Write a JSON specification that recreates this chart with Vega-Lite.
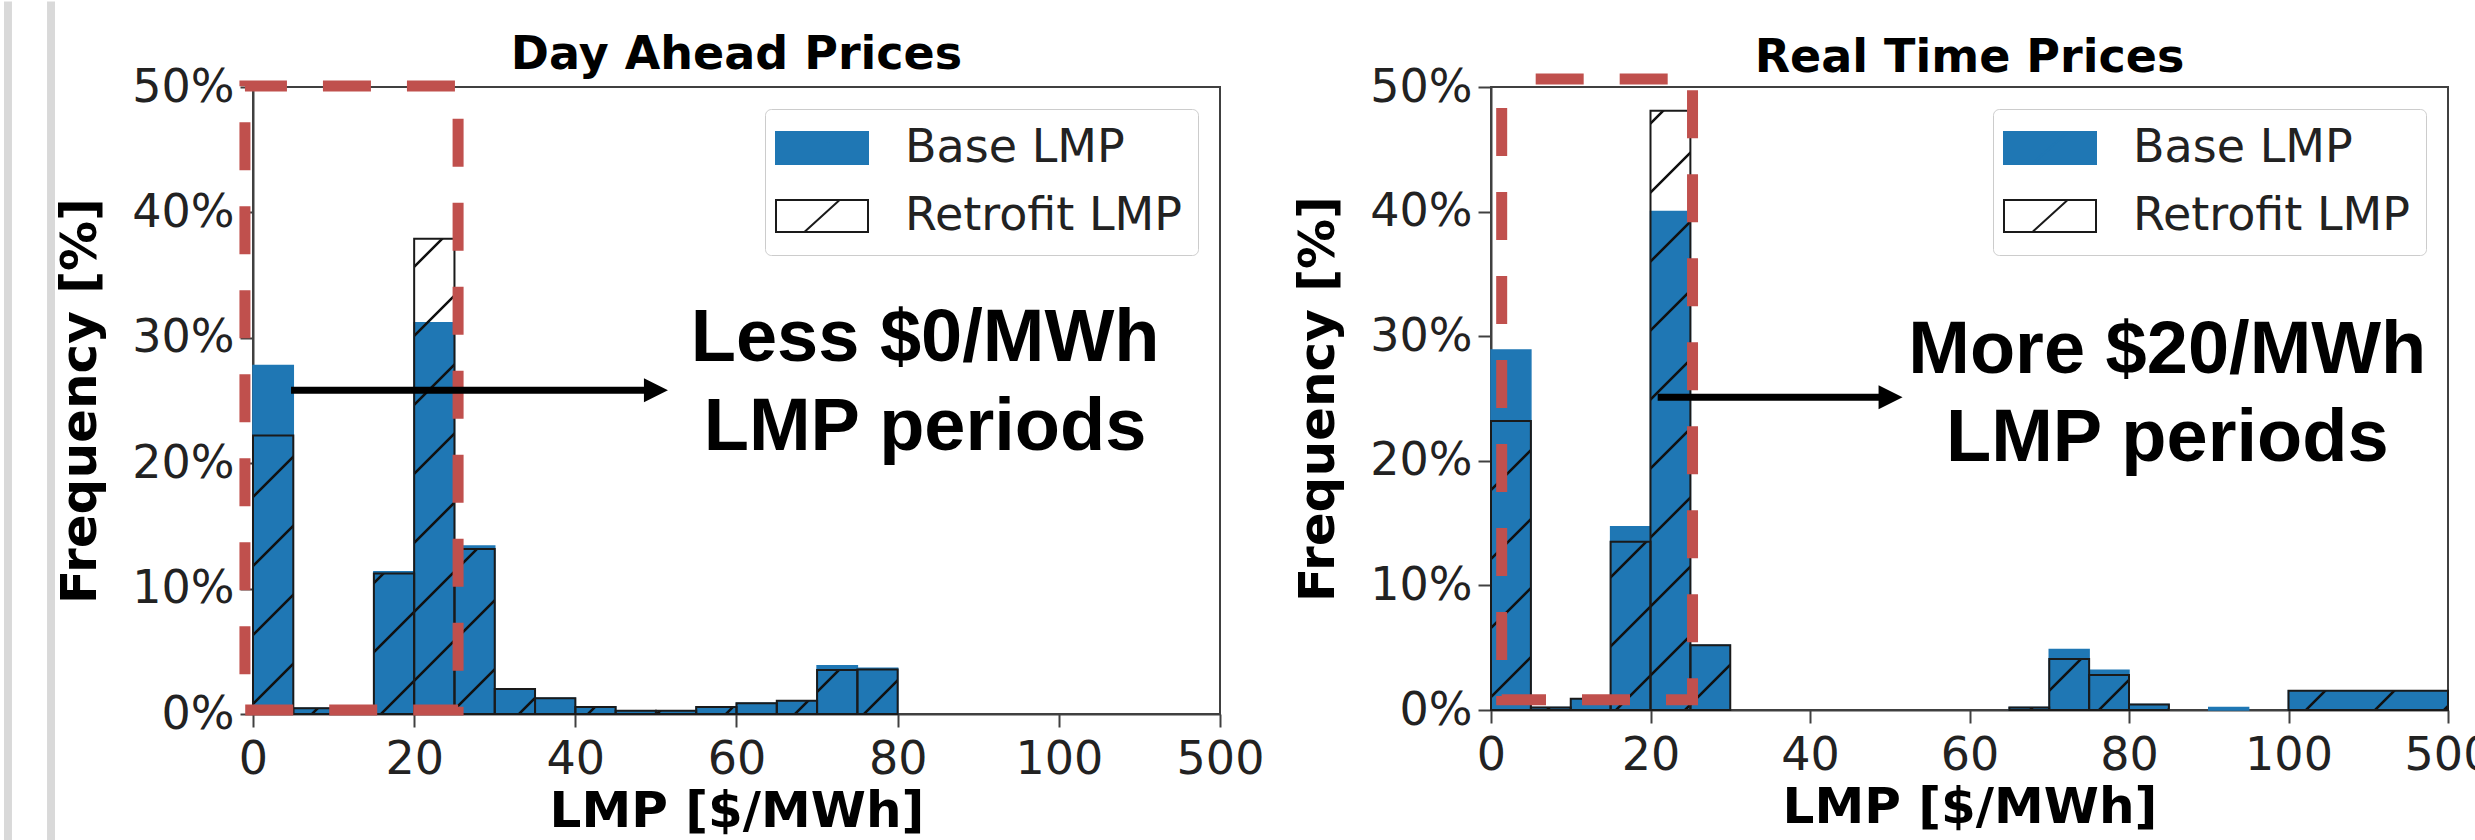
{
  "$schema": "https://vega.github.io/schema/vega-lite/v6.json",
  "background": "white",
  "padding": {"left": 2, "top": 0, "right": 0, "bottom": 0},
  "spacing": 27,
  "datasets": {
    "dayAhead": [
      {"series": "Base LMP", "lo": 0, "hi": 5, "v": 27.8},
      {"series": "Base LMP", "lo": 5, "hi": 10, "v": 0.45},
      {"series": "Base LMP", "lo": 10, "hi": 15, "v": 0.3},
      {"series": "Base LMP", "lo": 15, "hi": 20, "v": 11.35},
      {"series": "Base LMP", "lo": 20, "hi": 25, "v": 31.2},
      {"series": "Base LMP", "lo": 25, "hi": 30, "v": 13.4},
      {"series": "Base LMP", "lo": 30, "hi": 35, "v": 2.0},
      {"series": "Base LMP", "lo": 35, "hi": 40, "v": 1.25},
      {"series": "Base LMP", "lo": 40, "hi": 45, "v": 0.58},
      {"series": "Base LMP", "lo": 45, "hi": 50, "v": 0.25},
      {"series": "Base LMP", "lo": 50, "hi": 55, "v": 0.25},
      {"series": "Base LMP", "lo": 55, "hi": 60, "v": 0.55},
      {"series": "Base LMP", "lo": 60, "hi": 65, "v": 0.85},
      {"series": "Base LMP", "lo": 65, "hi": 70, "v": 1.05},
      {"series": "Base LMP", "lo": 70, "hi": 75, "v": 3.85},
      {"series": "Base LMP", "lo": 75, "hi": 80, "v": 3.65},
      {"series": "Retrofit LMP", "lo": 0, "hi": 5, "v": 22.2},
      {"series": "Retrofit LMP", "lo": 5, "hi": 10, "v": 0.45},
      {"series": "Retrofit LMP", "lo": 10, "hi": 15, "v": 0.3},
      {"series": "Retrofit LMP", "lo": 15, "hi": 20, "v": 11.2},
      {"series": "Retrofit LMP", "lo": 20, "hi": 25, "v": 37.9},
      {"series": "Retrofit LMP", "lo": 25, "hi": 30, "v": 13.15},
      {"series": "Retrofit LMP", "lo": 30, "hi": 35, "v": 2.0},
      {"series": "Retrofit LMP", "lo": 35, "hi": 40, "v": 1.25},
      {"series": "Retrofit LMP", "lo": 40, "hi": 45, "v": 0.55},
      {"series": "Retrofit LMP", "lo": 45, "hi": 50, "v": 0.25},
      {"series": "Retrofit LMP", "lo": 50, "hi": 55, "v": 0.25},
      {"series": "Retrofit LMP", "lo": 55, "hi": 60, "v": 0.55},
      {"series": "Retrofit LMP", "lo": 60, "hi": 65, "v": 0.85},
      {"series": "Retrofit LMP", "lo": 65, "hi": 70, "v": 1.05},
      {"series": "Retrofit LMP", "lo": 70, "hi": 75, "v": 3.5},
      {"series": "Retrofit LMP", "lo": 75, "hi": 80, "v": 3.55}
    ],
    "realTime": [
      {"series": "Base LMP", "lo": 0, "hi": 5, "v": 28.9},
      {"series": "Base LMP", "lo": 5, "hi": 10, "v": 0.2},
      {"series": "Base LMP", "lo": 10, "hi": 15, "v": 0.9},
      {"series": "Base LMP", "lo": 15, "hi": 20, "v": 14.7},
      {"series": "Base LMP", "lo": 20, "hi": 25, "v": 40.0},
      {"series": "Base LMP", "lo": 25, "hi": 30, "v": 5.2},
      {"series": "Base LMP", "lo": 65, "hi": 70, "v": 0.2},
      {"series": "Base LMP", "lo": 70, "hi": 75, "v": 4.85},
      {"series": "Base LMP", "lo": 75, "hi": 80, "v": 3.2},
      {"series": "Base LMP", "lo": 80, "hi": 85, "v": 0.45},
      {"series": "Base LMP", "lo": 90, "hi": 95, "v": 0.2},
      {"series": "Base LMP", "lo": 100, "hi": 500, "v": 1.55},
      {"series": "Retrofit LMP", "lo": 0, "hi": 5, "v": 23.2},
      {"series": "Retrofit LMP", "lo": 5, "hi": 10, "v": 0.2},
      {"series": "Retrofit LMP", "lo": 10, "hi": 15, "v": 0.9},
      {"series": "Retrofit LMP", "lo": 15, "hi": 20, "v": 13.5},
      {"series": "Retrofit LMP", "lo": 20, "hi": 25, "v": 48.1},
      {"series": "Retrofit LMP", "lo": 25, "hi": 30, "v": 5.2},
      {"series": "Retrofit LMP", "lo": 65, "hi": 70, "v": 0.2},
      {"series": "Retrofit LMP", "lo": 70, "hi": 75, "v": 4.1},
      {"series": "Retrofit LMP", "lo": 75, "hi": 80, "v": 2.8},
      {"series": "Retrofit LMP", "lo": 80, "hi": 85, "v": 0.45},
      {"series": "Retrofit LMP", "lo": 100, "hi": 500, "v": 1.55}
    ]
  },
  "resolve": {
    "scale": {"x": "independent", "y": "independent", "fill": "independent", "stroke": "independent"},
    "legend": {"fill": "independent", "stroke": "independent"}
  },
  "hconcat": [
    {
      "width": 967,
      "height": 627,
      "layer": [
        {
          "data": {"values": [{}]},
          "mark": {"type": "rect", "color": "#d9d9d9"},
          "encoding": {
            "x": {"datum": -30.9, "type": "quantitative"},
            "x2": {"datum": -29.91},
            "y": {"datum": 56.82, "type": "quantitative"},
            "y2": {"datum": -12.04}
          }
        },
        {
          "data": {"values": [{}]},
          "mark": {"type": "rect", "color": "#d9d9d9"},
          "encoding": {
            "x": {"datum": -25.56, "type": "quantitative"},
            "x2": {"datum": -24.57},
            "y": {"datum": 56.82, "type": "quantitative"},
            "y2": {"datum": -12.04}
          }
        },
        {
          "data": {"values": [{}]},
          "mark": {"type": "text", "text": "Day Ahead Prices", "font": "DejaVu Sans", "fontWeight": "bold", "fontSize": 46, "align": "center", "baseline": "alphabetic", "color": "black"},
          "encoding": {
            "x": {"datum": 60.0, "type": "quantitative"},
            "y": {"datum": 51.4, "type": "quantitative"}
          }
        },
        {
          "data": {"name": "dayAhead"},
          "transform": [{"filter": "datum.series === 'Base LMP'"}],
          "mark": {"type": "bar", "strokeWidth": 1.5},
          "encoding": {
            "x": {"field": "lo", "type": "quantitative", "title": "LMP [$/MWh]",
                  "scale": {"domain": [0, 100, 500], "range": [0, 805.833, 967], "nice": false, "zero": false},
                  "axis": {"values": [0, 20, 40, 60, 80, 100, 500], "labelFlush": false, "labelOverlap": false}},
            "x2": {"field": "hi"},
            "y": {"field": "v", "type": "quantitative", "title": "Frequency [%]", "stack": null,
                  "scale": {"domain": [0, 50], "nice": false},
                  "axis": {"values": [0, 10, 20, 30, 40, 50], "labelExpr": "datum.value + '%'"}},
            "y2": {"datum": 0},
            "fill": {"field": "series", "type": "nominal", "title": null,
                     "scale": {"domain": ["Base LMP", "Retrofit LMP"], "range": ["#1f77b4", "white"]}},
            "stroke": {"field": "series", "type": "nominal", "title": null,
                       "scale": {"domain": ["Base LMP", "Retrofit LMP"], "range": ["#1f77b4", "#1a1a1a"]}}
          }
        },
        {
          "data": {"name": "dayAhead"},
          "transform": [{"filter": "datum.series === 'Retrofit LMP'"}],
          "mark": {
            "type": "bar",
            "stroke": "#1a1a1a",
            "strokeWidth": 2,
            "fill": {"expr": "{gradient: 'linear', x1: ((-(((datum.lo * 8.058333 + 562 - datum.v * 12.54) % 69 + 69) % 69)) / ((datum.hi > 100 ? 20 : datum.hi - datum.lo) * 8.058333 + datum.v * 12.54)), y1: ((-(((datum.lo * 8.058333 + 562 - datum.v * 12.54) % 69 + 69) % 69)) / ((datum.hi > 100 ? 20 : datum.hi - datum.lo) * 8.058333 + datum.v * 12.54)), x2: ((-(((datum.lo * 8.058333 + 562 - datum.v * 12.54) % 69 + 69) % 69)) / ((datum.hi > 100 ? 20 : datum.hi - datum.lo) * 8.058333 + datum.v * 12.54)) + 828 * ((datum.hi > 100 ? 20 : datum.hi - datum.lo) * 8.058333) / (pow((datum.hi > 100 ? 20 : datum.hi - datum.lo) * 8.058333, 2) + pow(datum.v * 12.54, 2)), y2: ((-(((datum.lo * 8.058333 + 562 - datum.v * 12.54) % 69 + 69) % 69)) / ((datum.hi > 100 ? 20 : datum.hi - datum.lo) * 8.058333 + datum.v * 12.54)) + 828 * (datum.v * 12.54) / (pow((datum.hi > 100 ? 20 : datum.hi - datum.lo) * 8.058333, 2) + pow(datum.v * 12.54, 2)), stops: [{offset: -0.0028, color: 'transparent'}, {offset: -0.0014, color: '#111'}, {offset: 0.0014, color: '#111'}, {offset: 0.0028, color: 'transparent'}, {offset: 0.0805, color: 'transparent'}, {offset: 0.0819, color: '#111'}, {offset: 0.0847, color: '#111'}, {offset: 0.0861, color: 'transparent'}, {offset: 0.1639, color: 'transparent'}, {offset: 0.1653, color: '#111'}, {offset: 0.1681, color: '#111'}, {offset: 0.1695, color: 'transparent'}, {offset: 0.2472, color: 'transparent'}, {offset: 0.2486, color: '#111'}, {offset: 0.2514, color: '#111'}, {offset: 0.2528, color: 'transparent'}, {offset: 0.3305, color: 'transparent'}, {offset: 0.3319, color: '#111'}, {offset: 0.3347, color: '#111'}, {offset: 0.3361, color: 'transparent'}, {offset: 0.4139, color: 'transparent'}, {offset: 0.4153, color: '#111'}, {offset: 0.4181, color: '#111'}, {offset: 0.4195, color: 'transparent'}, {offset: 0.4972, color: 'transparent'}, {offset: 0.4986, color: '#111'}, {offset: 0.5014, color: '#111'}, {offset: 0.5028, color: 'transparent'}, {offset: 0.5805, color: 'transparent'}, {offset: 0.5819, color: '#111'}, {offset: 0.5847, color: '#111'}, {offset: 0.5861, color: 'transparent'}, {offset: 0.6639, color: 'transparent'}, {offset: 0.6653, color: '#111'}, {offset: 0.6681, color: '#111'}, {offset: 0.6695, color: 'transparent'}, {offset: 0.7472, color: 'transparent'}, {offset: 0.7486, color: '#111'}, {offset: 0.7514, color: '#111'}, {offset: 0.7528, color: 'transparent'}, {offset: 0.8305, color: 'transparent'}, {offset: 0.8319, color: '#111'}, {offset: 0.8347, color: '#111'}, {offset: 0.8361, color: 'transparent'}, {offset: 0.9139, color: 'transparent'}, {offset: 0.9153, color: '#111'}, {offset: 0.9181, color: '#111'}, {offset: 0.9195, color: 'transparent'}, {offset: 0.9972, color: 'transparent'}, {offset: 0.9986, color: '#111'}, {offset: 1.0014, color: '#111'}, {offset: 1.0028, color: 'transparent'}]}"}
          },
          "encoding": {
            "x": {"field": "lo", "type": "quantitative", "title": "LMP [$/MWh]"},
            "x2": {"field": "hi"},
            "y": {"field": "v", "type": "quantitative", "title": "Frequency [%]", "stack": null},
            "y2": {"datum": 0}
          }
        },
        {
          "data": {"values": [{}]},
          "mark": {"type": "rect", "fill": null, "filled": false, "stroke": "#c0504d", "strokeWidth": 11, "strokeDash": [48, 36], "strokeDashOffset": 6, "opacity": 1},
          "encoding": {
            "x": {"datum": -1.0, "type": "quantitative"},
            "x2": {"datum": 25.45},
            "y": {"datum": 50.08, "type": "quantitative"},
            "y2": {"datum": 0.32}
          }
        },
        {
          "data": {"values": [{}]},
          "mark": {"type": "rule", "color": "black", "strokeWidth": 7},
          "encoding": {
            "x": {"datum": 4.72, "type": "quantitative"},
            "x2": {"datum": 50.0},
            "y": {"datum": 25.81, "type": "quantitative"}
          }
        },
        {
          "data": {"values": [{}]},
          "mark": {"type": "point", "shape": "M1,0L-1,-1L-1,1Z", "size": 576, "filled": true, "color": "black", "opacity": 1},
          "encoding": {
            "x": {"datum": 50.0, "type": "quantitative"},
            "y": {"datum": 25.81, "type": "quantitative"}
          }
        },
        {
          "data": {"values": [{}]},
          "mark": {"type": "text", "text": ["Less $0/MWh", "LMP periods"], "font": "Liberation Sans", "fontWeight": "bold", "fontSize": 74, "lineHeight": 89, "align": "center", "baseline": "alphabetic", "color": "black"},
          "encoding": {
            "x": {"datum": 83.4, "type": "quantitative"},
            "y": {"datum": 28.15, "type": "quantitative"}
          }
        }
      ]
    },
    {
      "width": 957,
      "height": 623,
      "layer": [
        {
          "data": {"values": [{}]},
          "mark": {"type": "text", "text": "Real Time Prices", "font": "DejaVu Sans", "fontWeight": "bold", "fontSize": 46, "align": "center", "baseline": "alphabetic", "color": "black"},
          "encoding": {
            "x": {"datum": 60.0, "type": "quantitative"},
            "y": {"datum": 51.2, "type": "quantitative"}
          }
        },
        {
          "data": {"name": "realTime"},
          "transform": [{"filter": "datum.series === 'Base LMP'"}],
          "mark": {"type": "bar", "strokeWidth": 1.5},
          "encoding": {
            "x": {"field": "lo", "type": "quantitative", "title": "LMP [$/MWh]",
                  "scale": {"domain": [0, 100, 500], "range": [0, 797.5, 957], "nice": false, "zero": false},
                  "axis": {"values": [0, 20, 40, 60, 80, 100, 500], "labelFlush": false, "labelOverlap": false}},
            "x2": {"field": "hi"},
            "y": {"field": "v", "type": "quantitative", "title": "Frequency [%]", "stack": null,
                  "scale": {"domain": [0, 50], "nice": false},
                  "axis": {"values": [0, 10, 20, 30, 40, 50], "labelExpr": "datum.value + '%'"}},
            "y2": {"datum": 0},
            "fill": {"field": "series", "type": "nominal", "title": null,
                     "scale": {"domain": ["Base LMP", "Retrofit LMP"], "range": ["#1f77b4", "white"]}},
            "stroke": {"field": "series", "type": "nominal", "title": null,
                       "scale": {"domain": ["Base LMP", "Retrofit LMP"], "range": ["#1f77b4", "#1a1a1a"]}}
          }
        },
        {
          "data": {"name": "realTime"},
          "transform": [{"filter": "datum.series === 'Retrofit LMP'"}],
          "mark": {
            "type": "bar",
            "stroke": "#1a1a1a",
            "strokeWidth": 2,
            "fill": {"expr": "{gradient: 'linear', x1: ((-(((datum.lo * 7.975 + 565 - datum.v * 12.46) % 69 + 69) % 69)) / ((datum.hi > 100 ? 20 : datum.hi - datum.lo) * 7.975 + datum.v * 12.46)), y1: ((-(((datum.lo * 7.975 + 565 - datum.v * 12.46) % 69 + 69) % 69)) / ((datum.hi > 100 ? 20 : datum.hi - datum.lo) * 7.975 + datum.v * 12.46)), x2: ((-(((datum.lo * 7.975 + 565 - datum.v * 12.46) % 69 + 69) % 69)) / ((datum.hi > 100 ? 20 : datum.hi - datum.lo) * 7.975 + datum.v * 12.46)) + 828 * ((datum.hi > 100 ? 20 : datum.hi - datum.lo) * 7.975) / (pow((datum.hi > 100 ? 20 : datum.hi - datum.lo) * 7.975, 2) + pow(datum.v * 12.46, 2)), y2: ((-(((datum.lo * 7.975 + 565 - datum.v * 12.46) % 69 + 69) % 69)) / ((datum.hi > 100 ? 20 : datum.hi - datum.lo) * 7.975 + datum.v * 12.46)) + 828 * (datum.v * 12.46) / (pow((datum.hi > 100 ? 20 : datum.hi - datum.lo) * 7.975, 2) + pow(datum.v * 12.46, 2)), stops: [{offset: -0.0028, color: 'transparent'}, {offset: -0.0014, color: '#111'}, {offset: 0.0014, color: '#111'}, {offset: 0.0028, color: 'transparent'}, {offset: 0.0805, color: 'transparent'}, {offset: 0.0819, color: '#111'}, {offset: 0.0847, color: '#111'}, {offset: 0.0861, color: 'transparent'}, {offset: 0.1639, color: 'transparent'}, {offset: 0.1653, color: '#111'}, {offset: 0.1681, color: '#111'}, {offset: 0.1695, color: 'transparent'}, {offset: 0.2472, color: 'transparent'}, {offset: 0.2486, color: '#111'}, {offset: 0.2514, color: '#111'}, {offset: 0.2528, color: 'transparent'}, {offset: 0.3305, color: 'transparent'}, {offset: 0.3319, color: '#111'}, {offset: 0.3347, color: '#111'}, {offset: 0.3361, color: 'transparent'}, {offset: 0.4139, color: 'transparent'}, {offset: 0.4153, color: '#111'}, {offset: 0.4181, color: '#111'}, {offset: 0.4195, color: 'transparent'}, {offset: 0.4972, color: 'transparent'}, {offset: 0.4986, color: '#111'}, {offset: 0.5014, color: '#111'}, {offset: 0.5028, color: 'transparent'}, {offset: 0.5805, color: 'transparent'}, {offset: 0.5819, color: '#111'}, {offset: 0.5847, color: '#111'}, {offset: 0.5861, color: 'transparent'}, {offset: 0.6639, color: 'transparent'}, {offset: 0.6653, color: '#111'}, {offset: 0.6681, color: '#111'}, {offset: 0.6695, color: 'transparent'}, {offset: 0.7472, color: 'transparent'}, {offset: 0.7486, color: '#111'}, {offset: 0.7514, color: '#111'}, {offset: 0.7528, color: 'transparent'}, {offset: 0.8305, color: 'transparent'}, {offset: 0.8319, color: '#111'}, {offset: 0.8347, color: '#111'}, {offset: 0.8361, color: 'transparent'}, {offset: 0.9139, color: 'transparent'}, {offset: 0.9153, color: '#111'}, {offset: 0.9181, color: '#111'}, {offset: 0.9195, color: 'transparent'}, {offset: 0.9972, color: 'transparent'}, {offset: 0.9986, color: '#111'}, {offset: 1.0014, color: '#111'}, {offset: 1.0028, color: 'transparent'}]}"}
          },
          "encoding": {
            "x": {"field": "lo", "type": "quantitative", "title": "LMP [$/MWh]"},
            "x2": {"field": "hi"},
            "y": {"field": "v", "type": "quantitative", "title": "Frequency [%]", "stack": null},
            "y2": {"datum": 0}
          }
        },
        {
          "data": {"values": [{}]},
          "mark": {"type": "rect", "fill": null, "filled": false, "stroke": "#c0504d", "strokeWidth": 11, "strokeDash": [48, 36], "strokeDashOffset": 50, "opacity": 1},
          "encoding": {
            "x": {"datum": 1.34, "type": "quantitative"},
            "x2": {"datum": 25.27},
            "y": {"datum": 50.64, "type": "quantitative"},
            "y2": {"datum": 0.83}
          }
        },
        {
          "data": {"values": [{}]},
          "mark": {"type": "rule", "color": "black", "strokeWidth": 7},
          "encoding": {
            "x": {"datum": 20.9, "type": "quantitative"},
            "x2": {"datum": 50.1},
            "y": {"datum": 25.1, "type": "quantitative"}
          }
        },
        {
          "data": {"values": [{}]},
          "mark": {"type": "point", "shape": "M1,0L-1,-1L-1,1Z", "size": 576, "filled": true, "color": "black", "opacity": 1},
          "encoding": {
            "x": {"datum": 50.1, "type": "quantitative"},
            "y": {"datum": 25.1, "type": "quantitative"}
          }
        },
        {
          "data": {"values": [{}]},
          "mark": {"type": "text", "text": ["More $20/MWh", "LMP periods"], "font": "Liberation Sans", "fontWeight": "bold", "fontSize": 74, "lineHeight": 88, "align": "center", "baseline": "alphabetic", "color": "black"},
          "encoding": {
            "x": {"datum": 84.8, "type": "quantitative"},
            "y": {"datum": 27.05, "type": "quantitative"}
          }
        }
      ]
    }
  ],
  "config": {
    "font": "DejaVu Sans",
    "view": {"stroke": "#404040", "strokeWidth": 2},
    "axis": {
      "grid": false,
      "labelFont": "DejaVu Sans", "labelFontSize": 46, "labelColor": "#222222", "labelPadding": 10,
      "titleFont": "DejaVu Sans", "titleFontSize": 50, "titleFontWeight": "bold", "titleColor": "black",
      "tickSize": 13, "tickWidth": 2, "tickColor": "#404040",
      "domainColor": "#404040", "domainWidth": 2
    },
    "axisY": {"labelPadding": 6, "titlePadding": 26},
    "legend": {
      "orient": "top-right", "offset": 22, "padding": 16,
      "symbolType": "M-2.875,-1H2.875V1H-2.875Z M-1.1,1L1.1,-1",
      "symbolSize": 1024, "symbolStrokeWidth": 2, "symbolOffset": 18,
      "labelFont": "DejaVu Sans", "labelFontSize": 46, "labelColor": "#222222", "labelOffset": 60, "labelLimit": 600,
      "rowPadding": 22, "fillColor": "rgba(255,255,255,0.8)", "strokeColor": "#cccccc", "cornerRadius": 6
    }
  }
}
